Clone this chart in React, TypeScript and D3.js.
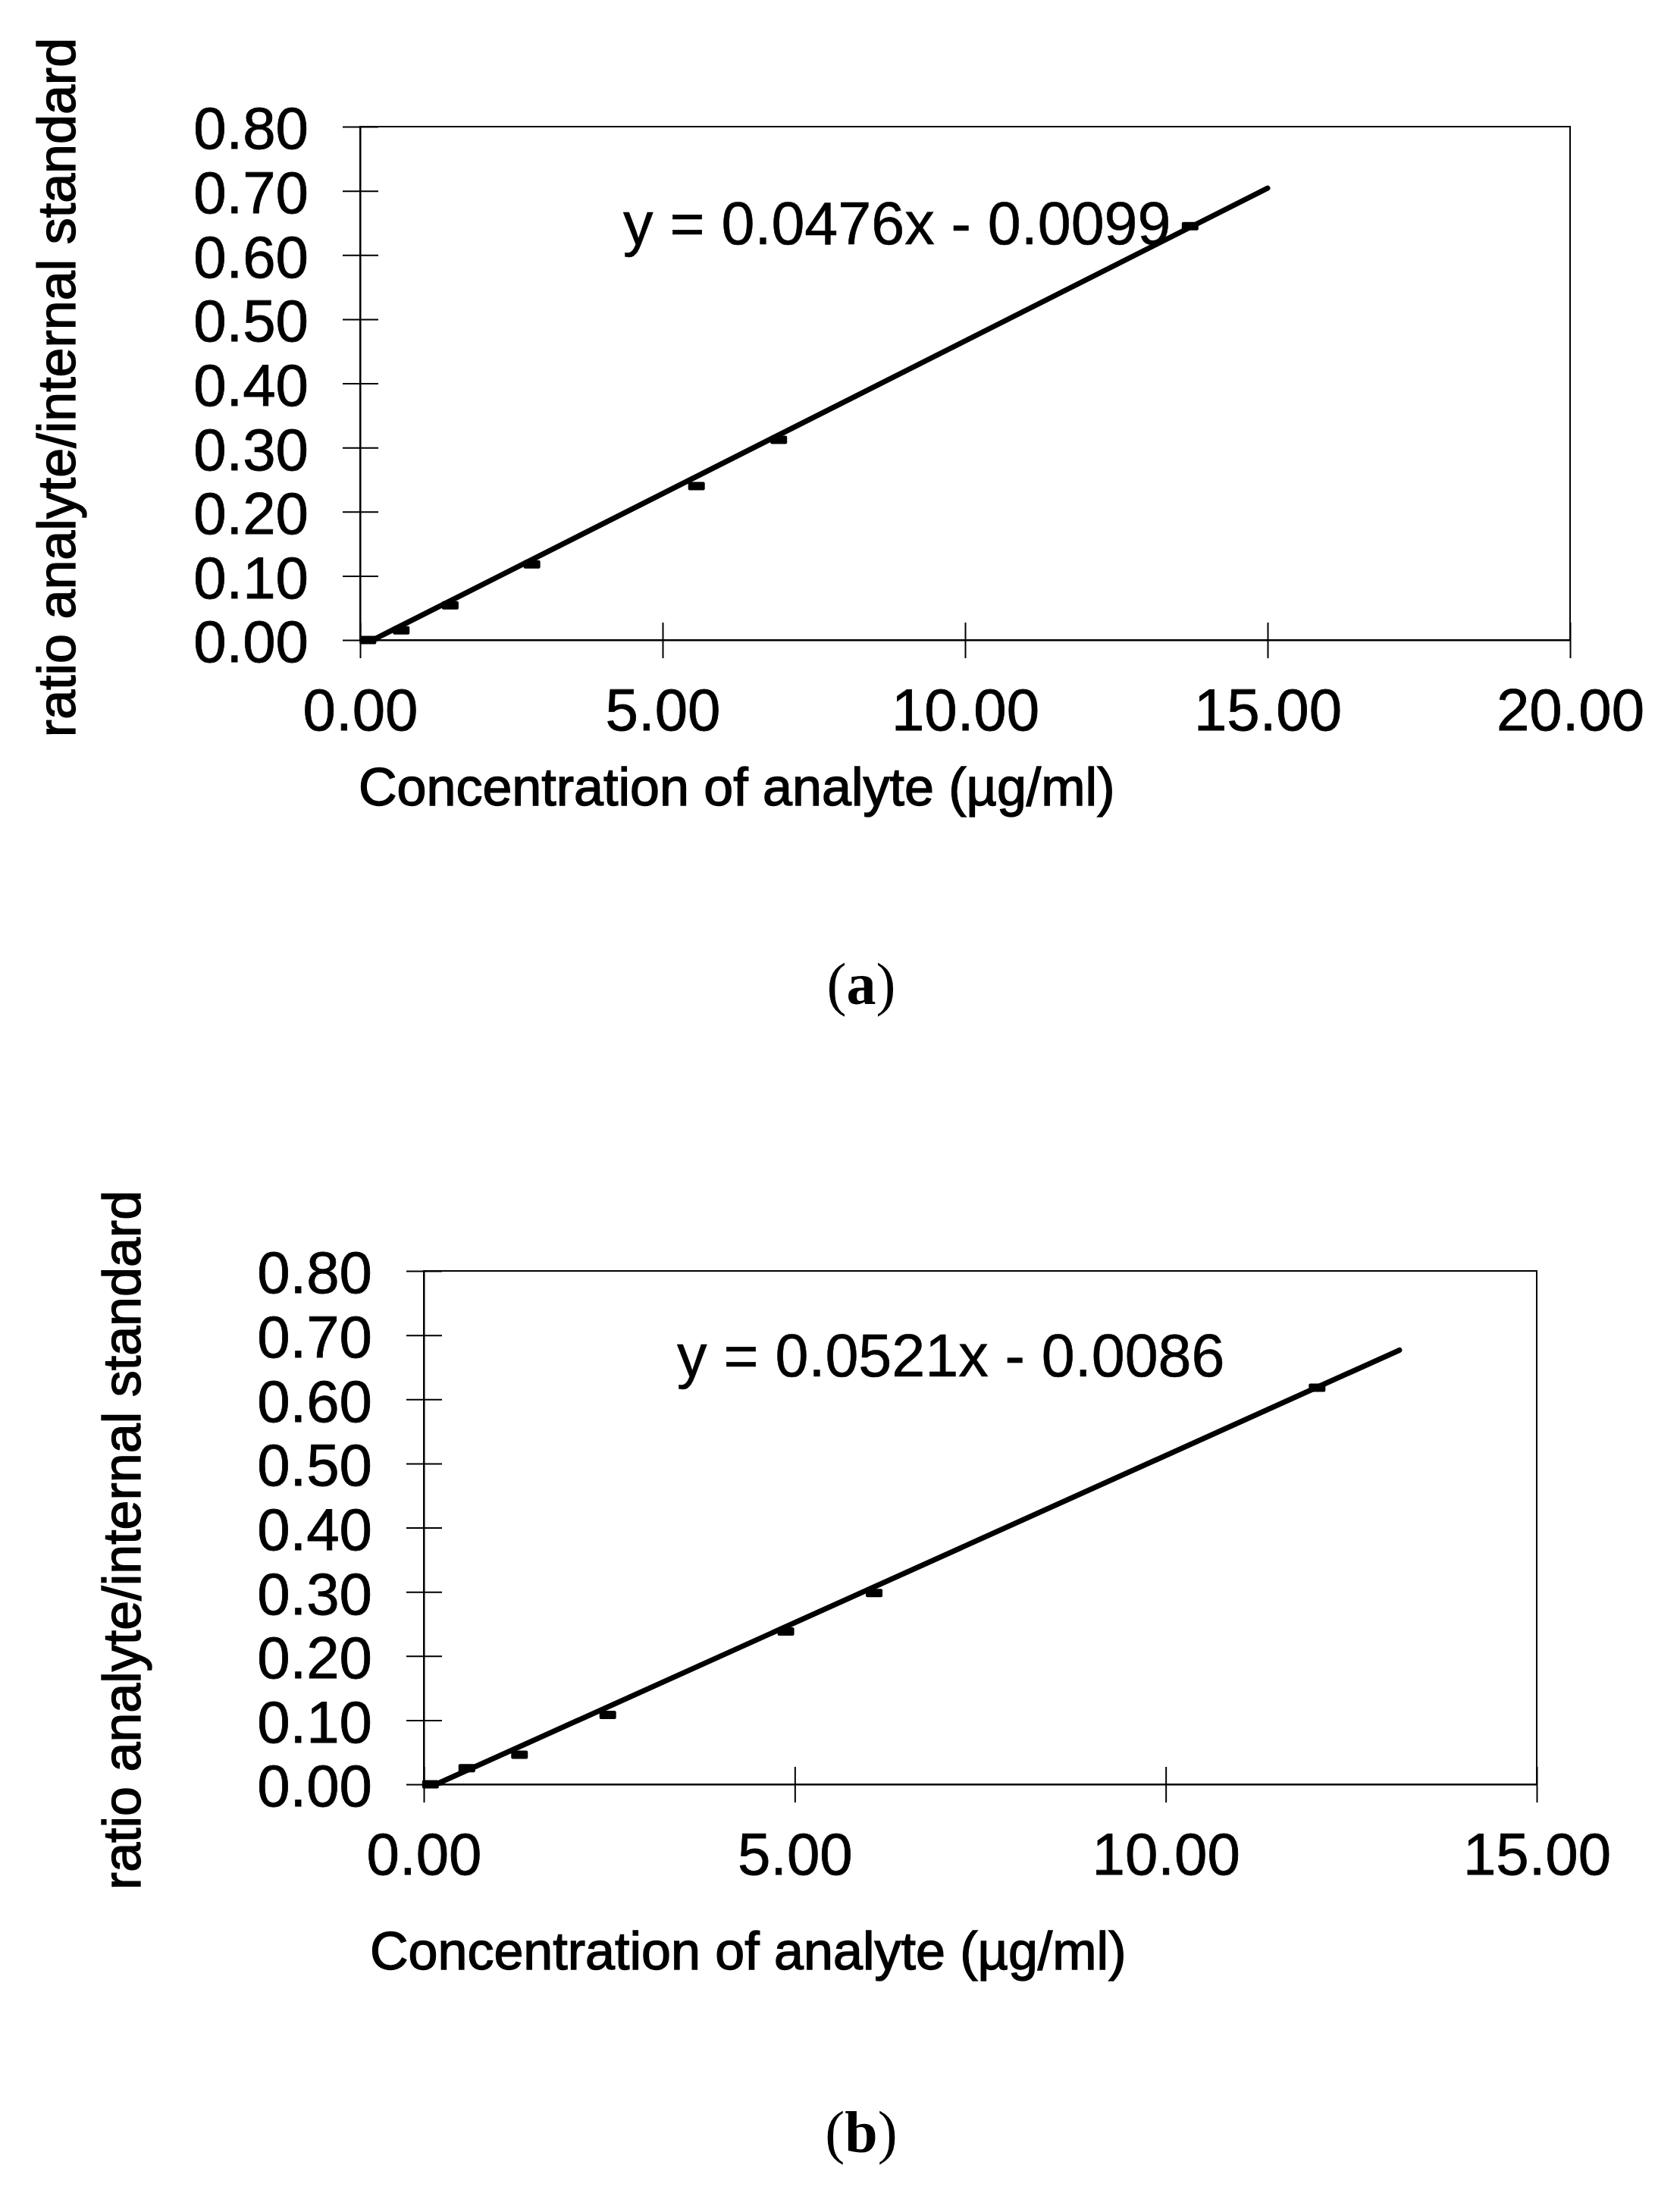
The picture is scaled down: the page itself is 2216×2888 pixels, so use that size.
import React, { useEffect, useRef } from 'react';
import * as d3 from 'd3';

// panel (a)
const concA = [0.13, 0.68, 1.49, 2.84, 5.56, 6.92, 13.72];
const ratioA = [0.0, 0.015, 0.054, 0.118, 0.24, 0.312, 0.645];
const fitA = { slope: 0.0476, intercept: -0.0099, xEnd: 15 };
const xTicksA = [0, 5, 10, 15, 20];

// panel (b)
const concB = [0.09, 0.58, 1.29, 2.48, 4.88, 6.07, 12.04];
const ratioB = [0.0, 0.025, 0.046, 0.108, 0.238, 0.298, 0.618];
const fitB = { slope: 0.0521, intercept: -0.0086, xEnd: 13.15 };
const xTicksB = [0, 5, 10, 15];

const yTicks = [0, 0.1, 0.2, 0.3, 0.4, 0.5, 0.6, 0.7, 0.8];

const yTitle = 'ratio analyte/internal standard';
const xTitle = 'Concentration of analyte (µg/ml)';

interface Fit {
  slope: number;
  intercept: number;
  xEnd: number;
}

interface Panel {
  conc: number[];
  ratio: number[];
  fit: Fit;
  xTicks: number[];
  label: string;
  left: number;
  right: number;
  top: number;
  bottom: number;
  yTitleX: number;
  yTitleY: number;
  xTitleX: number;
  xTitleY: number;
  eqX: number;
  eqY: number;
  captionY: number;
}

const panels: Panel[] = [
  {
    conc: concA, ratio: ratioA, fit: fitA, xTicks: xTicksA, label: 'a',
    left: 475, right: 2071, top: 167, bottom: 844,
    yTitleX: 99, yTitleY: 511, xTitleX: 473, xTitleY: 1062,
    eqX: 822, eqY: 322, captionY: 1324,
  },
  {
    conc: concB, ratio: ratioB, fit: fitB, xTicks: xTicksB, label: 'b',
    left: 559, right: 2027, top: 1676, bottom: 2353,
    yTitleX: 185, yTitleY: 2031, xTitleX: 488, xTitleY: 2597,
    eqX: 893, eqY: 1815, captionY: 2838,
  },
];

const SANS = '"Liberation Sans", Arial, Helvetica, sans-serif';
const SERIF = '"Liberation Serif", "Times New Roman", serif';

const App: React.FC = () => {
  const svgRef = useRef<SVGSVGElement>(null);

  useEffect(() => {
    const svg = d3.select(svgRef.current!);
    svg.selectAll('*').remove();

    panels.forEach((p) => {
      const x = d3.scaleLinear().domain([0, d3.max(p.xTicks) as number]).range([p.left, p.right]);
      const y = d3.scaleLinear().domain([0, 0.8]).range([p.bottom, p.top]);
      const g = svg.append('g');

      // plot area border
      g.append('rect')
        .attr('x', p.left)
        .attr('y', p.top)
        .attr('width', p.right - p.left)
        .attr('height', p.bottom - p.top)
        .attr('fill', 'none')
        .attr('stroke', '#000')
        .attr('stroke-width', 2);

      // y axis, ticks cross the axis line
      const yAxis = d3
        .axisLeft(y)
        .tickValues(yTicks)
        .tickFormat(d3.format('.2f'))
        .tickSizeInner(23)
        .tickSizeOuter(0);
      const gy = g
        .append('g')
        .attr('transform', `translate(${p.left},0)`)
        .call(yAxis)
        .attr('font-size', 78)
        .attr('font-family', SANS);
      gy.select('.domain').attr('stroke-width', 2);
      gy.selectAll('.tick line').attr('x1', 24).attr('stroke-width', 2);
      gy.selectAll('.tick text')
        .attr('x', -68)
        .attr('dy', '0.37em')
        .attr('fill', '#000')
        .attr('stroke', '#000')
        .attr('stroke-width', 0.8);

      // x axis
      const xAxis = d3
        .axisBottom(x)
        .tickValues(p.xTicks)
        .tickFormat(d3.format('.2f'))
        .tickSizeInner(24)
        .tickSizeOuter(0);
      const gx = g
        .append('g')
        .attr('transform', `translate(0,${p.bottom})`)
        .call(xAxis)
        .attr('font-size', 78)
        .attr('font-family', SANS);
      gx.select('.domain').attr('stroke-width', 2);
      gx.selectAll('.tick line').attr('y1', -23).attr('stroke-width', 2);
      gx.selectAll('.tick text')
        .attr('y', 119)
        .attr('dy', 0)
        .attr('fill', '#000')
        .attr('stroke', '#000')
        .attr('stroke-width', 0.8);

      // linear trendline, clipped at y = 0
      const xStart = -p.fit.intercept / p.fit.slope;
      const fitLine = d3
        .line<number>()
        .x((d) => x(d))
        .y((d) => y(p.fit.slope * d + p.fit.intercept));
      g.append('path')
        .datum([xStart, p.fit.xEnd])
        .attr('d', fitLine)
        .attr('fill', 'none')
        .attr('stroke', '#000')
        .attr('stroke-width', 7)
        .attr('stroke-linecap', 'round');

      // dash markers
      g.selectAll('.pt')
        .data(p.conc.map((c, i) => ({ c, r: p.ratio[i] })))
        .enter()
        .append('rect')
        .attr('class', 'pt')
        .attr('x', (d) => x(d.c) - 11)
        .attr('y', (d) => y(d.r) - 5.5)
        .attr('width', 22)
        .attr('height', 11)
        .attr('rx', 2)
        .attr('fill', '#000');

      // equation
      g.append('text')
        .attr('x', p.eqX)
        .attr('y', p.eqY)
        .attr('font-family', SANS)
        .attr('font-size', 79)
        .attr('stroke', '#000')
        .attr('stroke-width', 0.6)
        .text(`y = ${p.fit.slope.toFixed(4)}x - ${Math.abs(p.fit.intercept).toFixed(4)}`);

      // axis titles
      g.append('text')
        .attr('transform', `translate(${p.yTitleX},${p.yTitleY}) rotate(-90)`)
        .attr('text-anchor', 'middle')
        .attr('font-family', SANS)
        .attr('font-size', 70)
        .attr('stroke', '#000')
        .attr('stroke-width', 1.4)
        .text(yTitle);

      g.append('text')
        .attr('x', p.xTitleX)
        .attr('y', p.xTitleY)
        .attr('font-family', SANS)
        .attr('font-size', 70)
        .attr('stroke', '#000')
        .attr('stroke-width', 1.4)
        .text(xTitle);

      // caption
      const cap = g
        .append('text')
        .attr('x', 1136)
        .attr('y', p.captionY)
        .attr('text-anchor', 'middle')
        .attr('font-family', SERIF)
        .attr('font-size', 78);
      cap.append('tspan').text('(');
      cap.append('tspan').attr('font-weight', 'bold').text(p.label);
      cap.append('tspan').text(')');
    });
  }, []);

  return (
    <svg
      ref={svgRef}
      width={2216}
      height={2888}
      style={{ position: 'absolute', left: 0, top: 0, background: '#fff' }}
    />
  );
};

export default App;
